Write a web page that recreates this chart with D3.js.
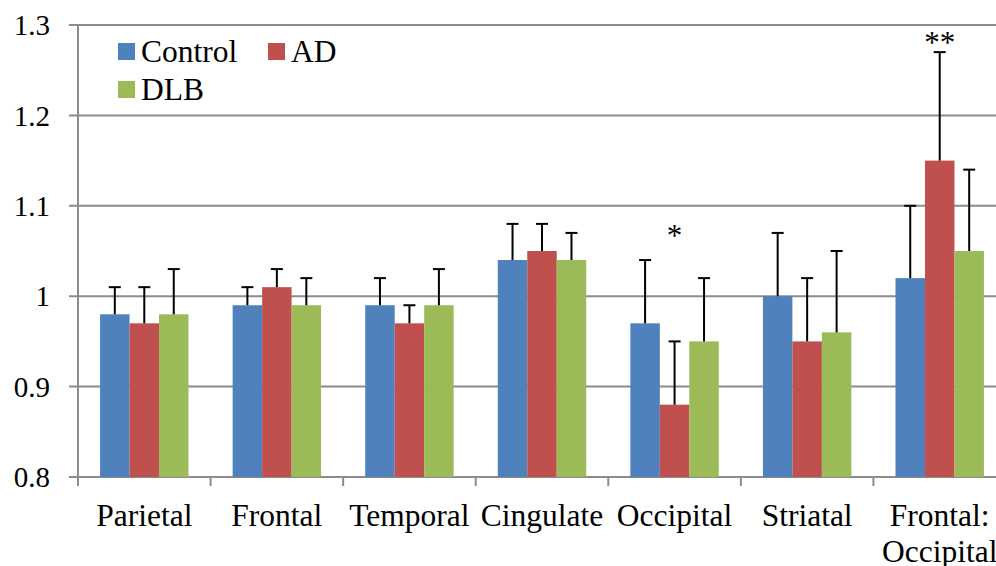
<!DOCTYPE html>
<html>
<head>
<meta charset="utf-8">
<script src="https://cdn.jsdelivr.net/npm/d3@7"></script>
</head>
<body style="margin:0">
<svg id="chart" width="996" height="566" style="display:block;font-family:'Liberation Serif'"></svg>
<script>
// Regional ratios per group (mean and error), with significance markers
const categories = ["Parietal", "Frontal", "Temporal", "Cingulate", "Occipital", "Striatal", "Frontal:\nOccipital"];
const seriesNames = ["Control", "AD", "DLB"];
const controlValues = [0.98, 0.99, 0.99, 1.04, 0.97, 1.00, 1.02];
const adValues      = [0.97, 1.01, 0.97, 1.05, 0.88, 0.95, 1.15];
const dlbValues     = [0.98, 0.99, 0.99, 1.04, 0.95, 0.96, 1.05];
const controlErrors = [0.03, 0.02, 0.03, 0.04, 0.07, 0.07, 0.08];
const adErrors      = [0.04, 0.02, 0.02, 0.03, 0.07, 0.07, 0.12];
const dlbErrors     = [0.05, 0.03, 0.04, 0.03, 0.07, 0.09, 0.09];
const significance  = ["", "", "", "", "*", "", "**"];
// value level at which each significance marker sits
const markerLevels  = [null, null, null, null, 1.055, null, 1.269];
const yTicks = [0.8, 0.9, 1.0, 1.1, 1.2, 1.3];
const yTickLabels = ["0.8", "0.9", "1", "1.1", "1.2", "1.3"];

(function () {
const colors = ["#4F81BD", "#C0504D", "#9BBB59"];
const valuesBySeries = [controlValues, adValues, dlbValues];
const errorsBySeries = [controlErrors, adErrors, dlbErrors];
const fontName = "'Liberation Serif'";

const svg = d3.select("#chart");
const plotLeft = 78, plotRight = 1006, plotTop = 25, plotBottom = 477;

const x = d3.scaleBand().domain(categories).range([plotLeft, plotRight]).paddingInner(0.333).paddingOuter(0.1665);
const xs = d3.scaleBand().domain(seriesNames).range([0, x.bandwidth()]);
const y = d3.scaleLinear().domain([0.8, 1.3]).range([plotBottom, plotTop]);

const gridColor = "#8c8c8c";

// horizontal gridlines with left tick stubs
svg.append("g").selectAll("line").data(yTicks).join("line")
  .attr("x1", plotLeft - 9).attr("x2", plotRight)
  .attr("y1", d => y(d)).attr("y2", d => y(d))
  .attr("stroke", gridColor).attr("stroke-width", 2);

// y axis line
svg.append("line").attr("x1", plotLeft).attr("x2", plotLeft).attr("y1", plotTop).attr("y2", plotBottom)
  .attr("stroke", gridColor).attr("stroke-width", 2);

// x category boundary ticks
const boundaries = categories.map((c, i) => plotLeft + i * x.step());
svg.append("g").selectAll("line").data(boundaries).join("line")
  .attr("x1", d => d).attr("x2", d => d).attr("y1", plotBottom).attr("y2", plotBottom + 9)
  .attr("stroke", gridColor).attr("stroke-width", 2);

// y tick labels
svg.append("g").selectAll("text").data(yTicks).join("text")
  .style("font-family", fontName).attr("font-size", 29)
  .attr("x", 50).attr("y", d => y(d)).attr("dy", "0.35em")
  .attr("text-anchor", "end").attr("fill", "#000")
  .text((d, i) => yTickLabels[i]);

// bars
const groups = svg.append("g").selectAll("g").data(seriesNames).join("g");
groups.each(function (name, si) {
  const g = d3.select(this);
  const vals = valuesBySeries[si];
  const errs = errorsBySeries[si];
  const cx = c => x(c) + xs(name) + xs.bandwidth() / 2;
  g.selectAll("rect").data(categories).join("rect")
    .attr("x", c => x(c) + xs(name))
    .attr("width", xs.bandwidth())
    .attr("y", (c, i) => y(vals[i]))
    .attr("height", (c, i) => y(0.8) - y(vals[i]))
    .attr("fill", colors[si]);
  // error bars (upper whisker with cap)
  g.selectAll("line.err").data(categories).join("line").attr("class", "err")
    .attr("x1", cx).attr("x2", cx)
    .attr("y1", (c, i) => y(vals[i]))
    .attr("y2", (c, i) => y(vals[i] + errs[i]))
    .attr("stroke", "#000").attr("stroke-width", 2);
  g.selectAll("line.cap").data(categories).join("line").attr("class", "cap")
    .attr("x1", c => cx(c) - 6).attr("x2", c => cx(c) + 6)
    .attr("y1", (c, i) => y(vals[i] + errs[i]))
    .attr("y2", (c, i) => y(vals[i] + errs[i]))
    .attr("stroke", "#000").attr("stroke-width", 2);
});

// significance markers above the AD bars
svg.append("g").selectAll("text")
  .data(categories.map((c, i) => ({ c, mark: significance[i], level: markerLevels[i] })).filter(d => d.mark))
  .join("text")
  .style("font-family", fontName).attr("font-size", 31)
  .attr("x", d => x(d.c) + xs("AD") + xs.bandwidth() / 2)
  .attr("y", d => y(d.level))
  .attr("text-anchor", "middle").attr("fill", "#000")
  .text(d => d.mark);

// category labels (may wrap onto two lines)
svg.append("g").selectAll("text").data(categories).join("text")
  .style("font-family", fontName).attr("font-size", 31.5)
  .attr("text-anchor", "middle").attr("fill", "#000")
  .each(function (c) {
    const t = d3.select(this);
    c.split("\n").forEach((line, li) => {
      t.append("tspan").attr("x", x(c) + x.bandwidth() / 2).attr("y", 526 + li * 36).text(line);
    });
  });

// legend
const legendItems = [
  { name: "Control", x: 118, y: 43 },
  { name: "AD", x: 268, y: 43 },
  { name: "DLB", x: 118, y: 81 }
];
const legend = svg.append("g").selectAll("g").data(legendItems).join("g")
  .attr("transform", d => `translate(${d.x},${d.y})`);
legend.append("rect").attr("width", 17).attr("height", 17)
  .attr("fill", d => colors[seriesNames.indexOf(d.name)]);
legend.append("text").style("font-family", fontName).attr("font-size", 31.5)
  .attr("x", 23).attr("y", 19).attr("fill", "#000")
  .text(d => d.name);
})();
</script>
</body>
</html>
